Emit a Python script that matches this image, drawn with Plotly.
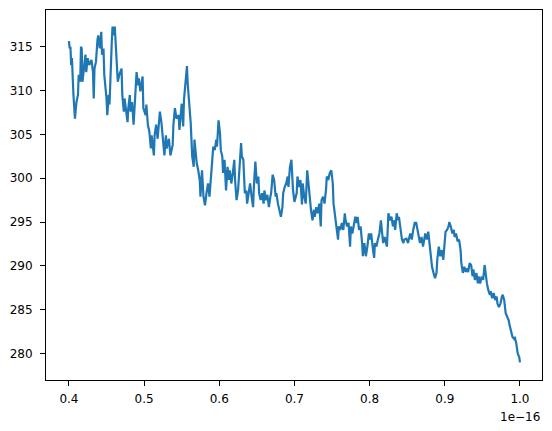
import plotly.graph_objects as go

# x values in units of 1e-16
x_vals = [
    0.400, 0.401, 0.402, 0.403, 0.404, 0.405, 0.406, 0.408, 0.410, 0.412,
    0.413, 0.415, 0.416, 0.417, 0.418, 0.420, 0.422, 0.423, 0.425, 0.427,
    0.430, 0.432, 0.433, 0.434, 0.436, 0.438, 0.439, 0.441, 0.442, 0.443,
    0.444, 0.446, 0.447, 0.450, 0.451, 0.453, 0.454, 0.455, 0.457, 0.458,
    0.459, 0.461, 0.462, 0.464, 0.465, 0.467, 0.470, 0.471, 0.473, 0.474,
    0.476, 0.478, 0.479, 0.481, 0.482, 0.484, 0.486, 0.488, 0.490, 0.492,
    0.493, 0.495, 0.498, 0.499, 0.502, 0.503, 0.505, 0.507, 0.509, 0.510,
    0.513, 0.514, 0.516, 0.518, 0.521, 0.523, 0.525, 0.527, 0.529, 0.530,
    0.533, 0.535, 0.538, 0.539, 0.541, 0.543, 0.546,
    0.547, 0.550, 0.552, 0.553, 0.555, 0.557, 0.558, 0.560, 0.562, 0.564,
    0.566, 0.567, 0.569, 0.570, 0.572, 0.574, 0.575, 0.577, 0.579, 0.581,
    0.583, 0.585, 0.587, 0.589, 0.590, 0.592, 0.594, 0.596, 0.597, 0.599,
    0.601, 0.602, 0.604, 0.605, 0.607, 0.609, 0.611, 0.613, 0.614, 0.616,
    0.618, 0.620, 0.621, 0.623, 0.625, 0.627, 0.629, 0.630, 0.632, 0.634,
    0.636, 0.637, 0.639, 0.641, 0.643, 0.645, 0.646, 0.648, 0.650, 0.652,
    0.653, 0.655, 0.657, 0.659, 0.660, 0.662, 0.664, 0.666, 0.668, 0.669,
    0.671, 0.673, 0.675, 0.676, 0.678, 0.680, 0.682, 0.684, 0.685, 0.687,
    0.689, 0.691, 0.692, 0.694, 0.696,
    0.698, 0.700, 0.703, 0.704, 0.706, 0.708, 0.710, 0.711, 0.713, 0.715,
    0.717, 0.719, 0.720, 0.722, 0.724, 0.726, 0.727, 0.729, 0.731, 0.733,
    0.735, 0.736, 0.738, 0.740, 0.742, 0.743, 0.745, 0.747, 0.749, 0.751,
    0.752, 0.754, 0.756, 0.758, 0.759, 0.761, 0.763, 0.765, 0.767, 0.768,
    0.770, 0.772, 0.774, 0.775, 0.777, 0.779, 0.781, 0.783, 0.784, 0.786,
    0.788, 0.790, 0.791, 0.793, 0.795, 0.797, 0.799, 0.800, 0.802, 0.804,
    0.806, 0.807, 0.809, 0.811, 0.813, 0.815, 0.816, 0.818, 0.820, 0.822,
    0.823, 0.825, 0.827, 0.829, 0.831, 0.832, 0.834, 0.836, 0.838, 0.839,
    0.841, 0.843, 0.845, 0.846,
    0.849, 0.851, 0.854, 0.856, 0.858, 0.860, 0.862, 0.865, 0.867, 0.869,
    0.871, 0.874, 0.876, 0.878, 0.880, 0.882, 0.883, 0.885, 0.887, 0.889,
    0.890, 0.892, 0.894, 0.896, 0.898, 0.899, 0.901, 0.903, 0.905, 0.906,
    0.908, 0.910, 0.912, 0.913, 0.915, 0.917, 0.919, 0.921, 0.922, 0.924,
    0.926, 0.928, 0.929, 0.931, 0.933, 0.935, 0.937, 0.938, 0.940, 0.942,
    0.944, 0.945, 0.947, 0.949, 0.951, 0.953, 0.954, 0.956, 0.958, 0.960,
    0.961, 0.963, 0.965, 0.967, 0.969, 0.970, 0.972, 0.974, 0.976, 0.977,
    0.979, 0.981, 0.983, 0.985, 0.986, 0.988, 0.990, 0.992, 0.993, 0.995,
    0.997, 0.999, 1.000,
]

y_vals = [
    315.65, 314.8, 315.0, 312.9, 313.7, 310.6, 309.5, 306.8, 308.7, 309.5,
    311.8, 311.0, 315.0, 314.8, 311.0, 312.5, 314.1, 312.1, 313.7, 312.9,
    313.5, 312.1, 309.1, 312.5, 313.3, 315.8, 316.3, 314.8, 316.0, 316.7,
    314.1, 314.8, 311.8, 309.1, 307.2, 309.5, 308.4, 311.8, 315.6, 317.3,
    316.3, 317.3, 315.2, 312.9, 311.0, 311.8, 312.5, 309.5, 307.6, 309.1,
    308.0, 306.4, 308.0, 309.5, 307.6, 308.7, 306.1, 309.1, 312.1, 310.6,
    311.4, 309.9, 311.6, 308.0, 307.2, 308.4, 306.1, 305.3, 303.4, 304.9,
    302.6, 304.9, 306.1, 304.5, 307.6, 306.4, 304.2, 302.6, 304.9, 303.4,
    304.5, 302.6, 303.8, 306.1, 308.0, 306.8, 307.2,
    305.5, 308.5, 305.9, 308.9, 310.8, 312.8, 310.8, 308.9, 306.3, 302.5,
    301.3, 304.4, 302.8, 301.7, 300.9, 299.8, 297.9, 300.9, 297.9, 296.9,
    298.3, 299.4, 297.9, 300.2, 300.6, 303.6, 303.2, 304.4, 303.6, 306.6,
    305.1, 303.2, 302.5, 300.6, 302.1, 298.6, 301.3, 299.8, 300.9, 299.4,
    300.6, 302.1, 299.8, 297.5, 298.6, 300.9, 304.0, 302.5, 302.1, 298.3,
    298.6, 297.1, 298.3, 299.4, 297.9, 296.7, 299.0, 301.9, 299.4, 300.2,
    298.3, 297.5, 298.3, 297.1, 298.6, 297.5, 298.1, 296.7, 297.9, 298.3,
    300.4, 299.8, 297.9, 298.3, 297.1, 296.4, 295.6, 296.7, 298.3, 299.0,
    299.4, 300.2, 299.0, 301.3, 302.1,
    298.7, 297.3, 298.3, 300.2, 299.0, 299.8, 297.0, 299.4, 297.9, 297.1,
    300.9, 298.7, 297.9, 296.4, 295.2, 296.4, 295.6, 296.7, 296.0, 297.1,
    294.5, 297.5, 297.9, 297.1, 298.7, 300.2, 299.8, 300.6, 300.9, 299.4,
    297.1, 295.6, 294.5, 293.0, 294.5, 294.1, 294.9, 294.1, 296.0, 295.2,
    294.5, 294.9, 292.2, 294.5, 293.7, 294.5, 295.6, 294.9, 295.6, 294.1,
    294.5, 292.6, 291.1, 292.6, 291.1, 292.2, 293.7, 293.0, 293.7, 292.2,
    290.9, 292.6, 292.2, 293.0, 293.7, 295.2, 294.1, 292.6, 293.3, 292.6,
    292.2, 296.0, 295.2, 295.6, 294.5, 295.2, 294.1, 296.0, 295.2, 295.6,
    294.1, 293.0, 292.6, 293.0,
    293.1, 292.6, 293.7, 293.0, 294.1, 294.9, 294.9, 293.5, 292.6, 293.3,
    292.2, 293.7, 293.0, 293.9, 292.2, 291.1, 289.9, 289.2, 288.6, 289.2,
    290.7, 292.2, 291.1, 291.8, 290.7, 291.8, 293.9, 294.1, 294.5, 295.0,
    294.5, 293.7, 294.1, 293.3, 293.7, 292.8, 293.0, 291.8, 290.3, 289.2,
    289.9, 289.3, 289.7, 289.3, 290.3, 290.1, 288.8, 289.6, 288.4, 289.2,
    288.0, 288.8, 288.0, 288.8, 288.4, 290.1, 289.3, 288.0, 287.2, 286.7,
    287.1, 286.3, 286.9, 286.1, 286.5, 285.7, 285.3, 285.7, 286.5, 286.7,
    286.1, 284.6, 284.2, 283.8, 283.3, 282.7, 281.9, 281.7, 281.9, 281.2,
    280.0, 279.6, 279.0,
]

x_ticks = [0.4, 0.5, 0.6, 0.7, 0.8, 0.9, 1.0]
x_tick_text = ["0.4", "0.5", "0.6", "0.7", "0.8", "0.9", "1.0"]
y_ticks = [280, 285, 290, 295, 300, 305, 310, 315]
y_tick_text = ["280", "285", "290", "295", "300", "305", "310", "315"]
offset_text = "1e\u221216"

fig = go.Figure()
fig.add_trace(go.Scatter(
    x=x_vals, y=y_vals, mode="lines",
    line=dict(color="#1f77b4", width=2.2),
    hoverinfo="skip", showlegend=False,
))

axis_common = dict(
    showgrid=False, zeroline=False,
    showline=True, linecolor="black", linewidth=1, mirror=True,
    ticks="outside", ticklen=5, tickwidth=1, tickcolor="black",
    tickfont=dict(family="DejaVu Sans", size=12, color="black"),
)

fig.update_xaxes(range=[0.3695, 1.0293], tickvals=x_ticks, ticktext=x_tick_text,
                 ticklabelstandoff=3, **axis_common)
fig.update_yaxes(range=[276.98, 319.19], tickvals=y_ticks, ticktext=y_tick_text,
                 ticklabelstandoff=5, **axis_common)

fig.add_annotation(
    text=offset_text, xref="paper", yref="paper", x=1.0, y=-0.1,
    xanchor="right", yanchor="middle", showarrow=False,
    font=dict(family="DejaVu Sans", size=12, color="black"),
)

fig.update_layout(
    width=552, height=431,
    margin=dict(l=46, r=10, t=10, b=51),
    paper_bgcolor="white", plot_bgcolor="white",
)

fig.write_html(
    "out.html",
    config={"displayModeBar": False, "staticPlot": True},
    post_script="document.body.style.margin='0';document.body.style.overflow='hidden';",
)
